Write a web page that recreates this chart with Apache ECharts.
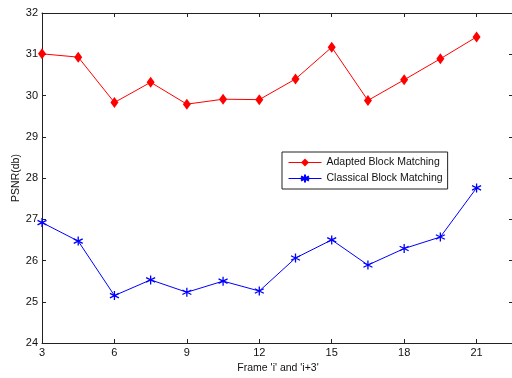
<!DOCTYPE html>
<html lang="en">
<head>
    <meta charset="utf-8">
    <title>PSNR</title>
    <script type="text/javascript" src="https://cdn.jsdelivr.net/npm/echarts@6/dist/echarts.min.js"></script>
    <style>
        html, body { margin: 0; padding: 0; background: #fff; }
        #chartMain { width: 512px; height: 378px; }
    </style>
</head>
<body>
    <div id="chartMain"></div>
    <script type="text/javascript">
        // frame index 'i'
        var frames = [3, 4.5, 6, 7.5, 9, 10.5, 12, 13.5, 15, 16.5, 18, 19.5, 21];
        var adapted = [31.01, 30.93, 29.83, 30.32, 29.79, 29.91, 29.90, 30.40, 31.17, 29.88, 30.38, 30.89, 31.42];
        var classical = [26.92, 26.47, 25.15, 25.53, 25.23, 25.50, 25.26, 26.06, 26.50, 25.89, 26.29, 26.57, 27.76];
        var xTicks = [3, 6, 9, 12, 15, 18, 21];

        function pairs(ys) {
            return frames.map(function (x, i) { return [x, ys[i]]; });
        }

        var font = 'Arial, "Liberation Sans", Helvetica, sans-serif';
        var axisColor = '#222';
        var starPath = 'path://M0,-5L0,5M-4.3,-2.5L4.3,2.5M-4.3,2.5L4.3,-2.5';

        var chart = echarts.init(document.getElementById('chartMain'));
        chart.setOption({
            animation: false,
            backgroundColor: '#fff',
            grid: { left: 42, right: -2, top: 13, bottom: 35, containLabel: false, outerBoundsMode: 'none' },
            legend: {
                orient: 'vertical',
                left: 282,
                top: 152,
                padding: [5, 5, 4, 6],
                itemGap: 4,
                itemWidth: 33,
                itemHeight: 10,
                backgroundColor: '#fff',
                borderColor: '#222',
                borderWidth: 1,
                borderRadius: 0,
                lineStyle: { width: 1 },
                textStyle: { fontFamily: font, fontSize: 10.5, color: '#111' },
                data: ['Adapted Block Matching', 'Classical Block Matching']
            },
            xAxis: [{
                type: 'value',
                min: 3,
                max: 22.55,
                interval: 3,
                name: "Frame 'i' and 'i+3'",
                nameLocation: 'middle',
                nameGap: 20,
                nameMoveOverlap: false,
                nameTextStyle: { fontFamily: font, fontSize: 10.5, color: '#111' },
                splitLine: { show: false },
                axisLine: { lineStyle: { color: axisColor, width: 1 } },
                axisTick: { inside: true, length: 4, lineStyle: { color: axisColor } },
                axisLabel: {
                    margin: 4,
                    fontFamily: font, fontSize: 11, color: '#111',
                    formatter: function (v) { return xTicks.indexOf(v) >= 0 ? String(v) : ''; }
                }
            }, {
                type: 'value',
                position: 'top',
                min: 3,
                max: 22.55,
                interval: 3,
                splitLine: { show: false },
                axisLine: { onZero: false, lineStyle: { color: axisColor, width: 1 } },
                axisTick: { inside: true, length: 4, lineStyle: { color: axisColor } },
                axisLabel: { show: false }
            }],
            yAxis: [{
                type: 'value',
                min: 24,
                max: 32,
                interval: 1,
                name: 'PSNR(db)',
                nameLocation: 'middle',
                nameGap: 20,
                nameMoveOverlap: false,
                nameTextStyle: { fontFamily: font, fontSize: 10.5, color: '#111' },
                splitLine: { show: false },
                axisLine: { show: true, lineStyle: { color: axisColor, width: 1 } },
                axisTick: { show: true, inside: true, length: 4, lineStyle: { color: axisColor } },
                axisLabel: { margin: 4, fontFamily: font, fontSize: 11, color: '#111' }
            }, {
                type: 'value',
                position: 'right',
                min: 24,
                max: 32,
                interval: 1,
                splitLine: { show: false },
                axisLine: { show: false },
                axisTick: { show: true, inside: true, length: 5, lineStyle: { color: axisColor } },
                axisLabel: { show: false }
            }],
            series: [{
                name: 'Adapted Block Matching',
                type: 'line',
                xAxisIndex: 0,
                yAxisIndex: 0,
                data: pairs(adapted),
                symbol: 'diamond',
                symbolSize: [8, 11],
                lineStyle: { color: '#ff0000', width: 1 },
                itemStyle: { color: '#ff0000' }
            }, {
                name: 'Classical Block Matching',
                type: 'line',
                xAxisIndex: 0,
                yAxisIndex: 0,
                data: pairs(classical),
                symbol: starPath,
                symbolSize: 9,
                lineStyle: { color: '#0000ff', width: 1 },
                itemStyle: { color: 'none', borderColor: '#0000ff', borderWidth: 1.3 }
            }]
        });
    </script>
</body>
</html>
